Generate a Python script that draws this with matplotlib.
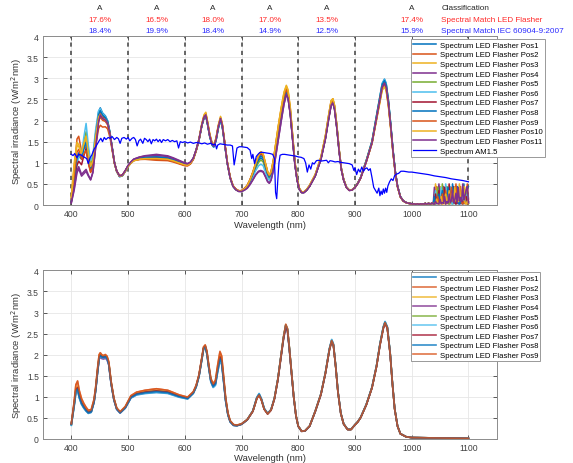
import numpy as np
import matplotlib
matplotlib.use('Agg')
import matplotlib.pyplot as plt

plt.rcParams['font.family'] = ['Liberation Sans', 'DejaVu Sans']

# ---- top plot: typical LED flasher spectrum
wl_top = [400,405,410,413,418,422,426,430,434,438,443,448,451,455,460,464,468,472,476,480,
          485,490,495,500,505,510,520,530,550,570,580,590,600,605,610,615,620,625,630,634,
          637,640,644,648,651,655,659,663,666,670,675,680,685,690,695,700,705,710,715,720,
          725,730,734,738,742,746,749,752,756,760,765,770,775,779,782,786,790,794,798,802,
          806,810,815,820,830,840,848,854,858,861,864,868,872,876,880,885,890,895,900,905,
          910,920,930,938,944,948,952,955,959,963,967,971,975,980,985,990,995]
led_top = [0.1,0.6,1.15,1.25,1.1,1.3,1.45,1.1,0.85,1.0,1.6,2.1,2.2,2.1,2.05,1.95,1.7,1.35,1.0,0.8,
           0.68,0.7,0.8,0.92,1.0,1.06,1.1,1.12,1.13,1.11,1.07,1.02,0.97,0.96,1.0,1.1,1.3,1.55,1.9,2.1,
           2.15,1.95,1.65,1.45,1.4,1.55,1.85,2.05,1.9,1.5,1.0,0.65,0.45,0.37,0.33,0.33,0.38,0.45,0.58,0.75,
           0.95,1.12,1.2,1.15,0.95,0.75,0.68,0.75,1.0,1.35,1.8,2.2,2.55,2.7,2.6,2.2,1.6,1.0,0.6,0.38,
           0.3,0.3,0.36,0.45,0.7,1.1,1.6,2.1,2.4,2.45,2.3,1.85,1.3,0.85,0.6,0.42,0.35,0.36,0.42,0.52,
           0.65,1.05,1.5,2.1,2.55,2.85,2.95,2.85,2.45,1.9,1.3,0.8,0.45,0.2,0.1,0.06,0.04]
# tail 1000..1038 nm (quiet) and noisy part 1040..1100 nm, 2 nm steps
tail_quiet = [0.03,0.02,0.03,0.02,0.02,0.03,0.02,0.02,0.03,0.02,
              0.03,0.02,0.04,0.02,0.03,0.04,0.02,0.03,0.05,0.03]
tail_noise = [0.05,0.02,0.09,0.03,0.04,0.03,0.14,0.03,0.06,0.04,
              0.2,0.04,0.08,0.05,0.26,0.06,0.1,0.34,0.05,0.12,
              0.28,0.06,0.42,0.1,0.18,0.08,0.5,0.12,0.22,0.36,0.44]

# per position readings at feature wavelengths
anchors_top = [400, 412, 425, 450, 485, 550, 600, 636, 663, 700, 735, 780, 860, 952]
top_pos_vals = [
    [0.10, 1.10, 1.55, 2.27, 0.67, 1.15, 0.98, 2.10, 2.00, 0.33, 1.10, 2.65, 2.45, 2.98],
    [0.15, 1.62, 1.35, 1.85, 0.70, 1.06, 0.93, 2.15, 2.05, 0.34, 1.25, 2.75, 2.50, 2.85],
    [0.20, 1.40, 1.50, 2.10, 0.68, 1.10, 0.95, 2.18, 2.10, 0.33, 1.25, 2.80, 2.50, 2.80],
    [0.05, 0.85, 0.75, 2.15, 0.68, 1.20, 1.00, 2.10, 2.05, 0.32, 0.78, 2.60, 2.40, 2.90],
    [0.12, 1.10, 1.70, 2.20, 0.68, 1.12, 0.96, 2.12, 2.02, 0.33, 1.05, 2.70, 2.45, 2.95],
    [0.10, 1.05, 1.90, 2.25, 0.67, 1.15, 0.98, 2.10, 2.00, 0.33, 0.95, 2.65, 2.45, 2.98],
    [0.08, 1.00, 1.30, 2.15, 0.68, 1.13, 0.97, 2.12, 2.05, 0.33, 1.20, 2.60, 2.40, 2.90],
    [0.10, 1.20, 1.45, 2.20, 0.68, 1.14, 0.97, 2.10, 2.02, 0.33, 1.15, 2.65, 2.42, 2.95],
    [0.12, 1.30, 1.25, 2.05, 0.69, 1.08, 0.94, 2.14, 2.06, 0.34, 1.22, 2.70, 2.45, 2.88],
    [0.18, 1.35, 1.60, 2.12, 0.68, 1.10, 0.95, 2.16, 2.08, 0.33, 1.25, 2.78, 2.50, 2.82],
    [0.06, 0.90, 0.80, 2.10, 0.69, 1.18, 0.99, 2.12, 2.05, 0.32, 0.80, 2.60, 2.40, 2.88],
]

# AM1.5 reference spectrum
wl_am = [400,403,406,410,413,418,422,427,430,433,436,440,443,446,449,452,455,458,461,465,
         468,472,476,480,483,486,489,493,497,500,503,507,510,513,516,519,522,526,529,532,
         535,538,541,544,547,550,553,556,559,562,566,570,574,578,582,586,589,592,596,600,
         605,610,615,620,625,630,635,640,645,650,654,656,658,662,666,670,675,680,684,687,
         689,692,696,700,705,710,715,718,720,723,726,729,732,736,740,745,750,755,758,760,
         762,764,766,768,772,776,780,785,790,795,800,805,810,813,816,819,822,825,828,832,
         836,840,845,850,853,856,860,865,870,875,880,885,890,895,898,900,903,906,909,912,
         915,918,921,924,927,930,933,936,939,942,944,946,948,950,952,954,956,958,961,964,
         967,970,973,977,981,986,990,995,1000,1010,1020,1030,1040,1050,1060,1070,1080,1090,1100]
am15 = [1.2,1.17,1.22,1.12,1.2,1.18,1.14,1.1,0.98,1.12,1.18,1.32,1.38,1.45,1.52,1.58,1.5,1.6,1.55,1.6,
        1.58,1.62,1.55,1.6,1.57,1.46,1.58,1.6,1.56,1.6,1.52,1.58,1.6,1.55,1.4,1.52,1.56,1.46,1.58,1.55,
        1.5,1.56,1.45,1.55,1.52,1.56,1.5,1.55,1.48,1.55,1.52,1.55,1.5,1.53,1.5,1.52,1.35,1.5,1.48,1.5,
        1.47,1.49,1.46,1.48,1.47,1.45,1.47,1.44,1.46,1.43,1.44,1.33,1.42,1.45,1.44,1.43,1.42,1.42,1.4,0.95,
        1.1,1.35,1.38,1.38,1.37,1.36,1.3,1.1,1.2,0.98,1.15,1.2,1.24,1.25,1.24,1.23,1.22,1.2,1.1,0.3,
        0.15,0.6,1.0,1.18,1.2,1.2,1.19,1.18,1.17,1.16,1.14,1.13,1.1,1.0,0.78,0.95,0.85,1.0,0.97,1.05,
        1.06,1.04,1.05,1.06,1.0,1.05,1.04,1.02,1.03,1.01,1.0,0.99,0.98,0.95,0.82,0.88,0.72,0.85,0.78,0.9,
        0.8,0.86,0.88,0.82,0.86,0.65,0.42,0.35,0.28,0.4,0.22,0.33,0.25,0.38,0.28,0.4,0.3,0.45,0.55,0.62,
        0.58,0.7,0.73,0.75,0.8,0.8,0.79,0.78,0.78,0.76,0.74,0.72,0.69,0.67,0.65,0.62,0.6,0.58,0.55]

# ---- bottom plot
wl_bot = [400,405,408,411,414,418,422,426,430,435,440,443,446,449,451,454,457,460,463,466,
          470,475,480,486,495,505,515,530,550,570,590,605,615,620,625,630,633,636,639,642,
          646,650,654,658,662,665,668,672,676,680,686,692,700,710,720,727,731,735,740,746,
          752,758,764,770,774,778,781,784,788,792,796,800,806,812,820,830,840,848,855,859,
          862,866,870,875,880,887,893,900,905,910,920,930,938,944,950,953,957,962,966,970,
          975,980,990,1000,1050,1100]
led_bot = [0.36,0.85,1.2,1.25,1.05,0.88,0.78,0.7,0.64,0.66,0.9,1.2,1.6,1.95,2.0,1.96,1.95,1.97,1.93,1.8,
           1.35,0.95,0.72,0.63,0.75,1.0,1.08,1.12,1.15,1.12,1.02,0.97,1.1,1.25,1.5,1.9,2.15,2.2,2.05,1.75,
           1.4,1.28,1.35,1.7,2.0,1.9,1.5,0.95,0.6,0.42,0.33,0.32,0.35,0.45,0.65,0.95,1.03,0.92,0.7,0.59,
           0.68,0.95,1.4,2.0,2.4,2.7,2.6,2.2,1.6,1.0,0.55,0.3,0.18,0.19,0.3,0.65,1.05,1.55,2.1,2.3,
           2.2,1.7,1.1,0.6,0.35,0.22,0.22,0.33,0.4,0.5,0.8,1.2,1.7,2.2,2.6,2.72,2.6,2.0,1.3,0.7,
           0.3,0.12,0.05,0.03,0.02,0.01]
anchors_bot = [400, 411, 455, 550, 636, 662, 730, 778, 860, 952]
bot_pos_vals = [
    [0.33, 1.15, 1.92, 1.10, 2.17, 1.85, 1.05, 2.68, 2.32, 2.74],
    [0.36, 1.38, 1.98, 1.19, 2.23, 2.08, 1.02, 2.72, 2.30, 2.72],
    [0.35, 1.25, 1.96, 1.15, 2.20, 1.98, 1.03, 2.70, 2.30, 2.72],
    [0.35, 1.20, 1.90, 1.13, 2.20, 1.92, 1.03, 2.68, 2.30, 2.72],
    [0.34, 1.20, 1.95, 1.14, 2.20, 1.95, 1.03, 2.70, 2.30, 2.73],
    [0.32, 1.15, 1.93, 1.11, 2.18, 1.86, 1.06, 2.70, 2.33, 2.75],
    [0.35, 1.22, 1.95, 1.14, 2.20, 1.95, 1.02, 2.65, 2.28, 2.70],
    [0.34, 1.18, 1.94, 1.12, 2.19, 1.90, 1.04, 2.70, 2.30, 2.73],
    [0.36, 1.36, 1.99, 1.19, 2.23, 2.06, 1.02, 2.72, 2.30, 2.72],
]

# classification table above the top plot
class_wl = [450, 550, 650, 750, 850, 1000]
class_grade = ['A', 'A', 'A', 'A', 'A', 'A']
match_led = ['17.6%', '16.5%', '18.0%', '17.0%', '13.5%', '17.4%']
match_iec = ['18.4%', '19.9%', '18.4%', '14.9%', '12.5%', '15.9%']
band_edges = [400, 500, 600, 700, 800, 900, 1100]

mcol = ['#0072BD', '#D95319', '#EDB120', '#7E2F8E', '#77AC30', '#4DBEEE', '#A2142F']


def shape(wl, base, anchors, vals):
    base_at = np.interp(anchors, wl, base)
    gain = np.interp(wl, anchors, np.array(vals) / base_at)
    return np.array(base) * gain


def style_axes(ax):
    ax.set_xlim(350, 1150)
    ax.set_ylim(0, 4)
    ax.set_xticks(range(400, 1101, 100))
    ax.set_yticks(np.arange(0, 4.01, 0.5))
    ax.set_yticklabels(['0', '0.5', '1', '1.5', '2', '2.5', '3', '3.5', '4'])
    ax.grid(True, color='0.9', lw=0.6)
    ax.set_axisbelow(True)
    ax.tick_params(direction='in', length=3, width=0.6, labelsize=6.2, colors='0.25',
                   top=True, right=True, pad=3)
    for s in ax.spines.values():
        s.set_color('0.55')
        s.set_linewidth(0.7)
    ax.set_xlabel('Wavelength (nm)', fontsize=6.8, color='0.2', labelpad=1)
    ax.set_ylabel('Spectral irradiance (W/m$^2$nm)', fontsize=6.8, color='0.2', labelpad=2)


fig = plt.figure(figsize=(5.73, 4.64), dpi=100)
ax1 = fig.add_axes([0.075, 0.556, 0.792, 0.364])
ax2 = fig.add_axes([0.075, 0.052, 0.792, 0.363])

for b in band_edges:
    ax1.axvline(b, color='0.3', lw=1.2, ls=(0, (2.5, 2.5)), zorder=1)

wl_tail = np.arange(1000, 1101, 2)
for i, vals in enumerate(top_pos_vals):
    y = shape(wl_top, led_top, anchors_top, vals)
    tail = tail_quiet + list(np.roll(tail_noise, 3 * i))
    ax1.plot(list(wl_top) + list(wl_tail), list(y) + tail, color=mcol[i % 7], lw=1.1,
             label='Spectrum LED Flasher Pos%d' % (i + 1), zorder=2)
ax1.plot(wl_am, am15, color='#0000FF', lw=0.9, label='Spectrum AM1.5', zorder=3)
style_axes(ax1)

for i, vals in enumerate(bot_pos_vals):
    y = shape(wl_bot, led_bot, anchors_bot, vals)
    ax2.plot(wl_bot, y, color=mcol[i % 7], lw=1.2, alpha=0.8,
             label='Spectrum LED Flasher Pos%d' % (i + 1))
style_axes(ax2)

leg_kw = dict(loc='upper left', fontsize=5.6, frameon=True, fancybox=False, framealpha=1,
              edgecolor='0.6', labelspacing=0.28, handlelength=2.9, handletextpad=0.5,
              borderpad=0.3, borderaxespad=0)
l1 = ax1.legend(bbox_to_anchor=(0.717, 0.914), bbox_transform=fig.transFigure, **leg_kw)
l2 = ax2.legend(bbox_to_anchor=(0.717, 0.411), bbox_transform=fig.transFigure, **leg_kw)
for l in (l1, l2):
    l.get_frame().set_linewidth(0.7)

tr = ax1.get_xaxis_transform()
fs = 5.9
rows = [1.172, 1.10, 1.036]
for x, a, r, b in zip(class_wl, class_grade, match_led, match_iec):
    ax1.text(x, rows[0], a, transform=tr, ha='center', va='center', fontsize=fs, color='0.15', clip_on=False)
    ax1.text(x, rows[1], r, transform=tr, ha='center', va='center', fontsize=fs, color='#ff2a2a', clip_on=False)
    ax1.text(x, rows[2], b, transform=tr, ha='center', va='center', fontsize=fs, color='#2a2aff', clip_on=False)
ax1.text(1052, rows[0], 'Classification', transform=tr, ha='left', va='center', fontsize=fs, color='0.15', clip_on=False)
ax1.text(1052, rows[1], 'Spectral Match LED Flasher', transform=tr, ha='left', va='center', fontsize=fs, color='#ff2a2a', clip_on=False)
ax1.text(1052, rows[2], 'Spectral Match IEC 60904-9:2007', transform=tr, ha='left', va='center', fontsize=fs, color='#2a2aff', clip_on=False)

fig.savefig('out.png', dpi=100)
